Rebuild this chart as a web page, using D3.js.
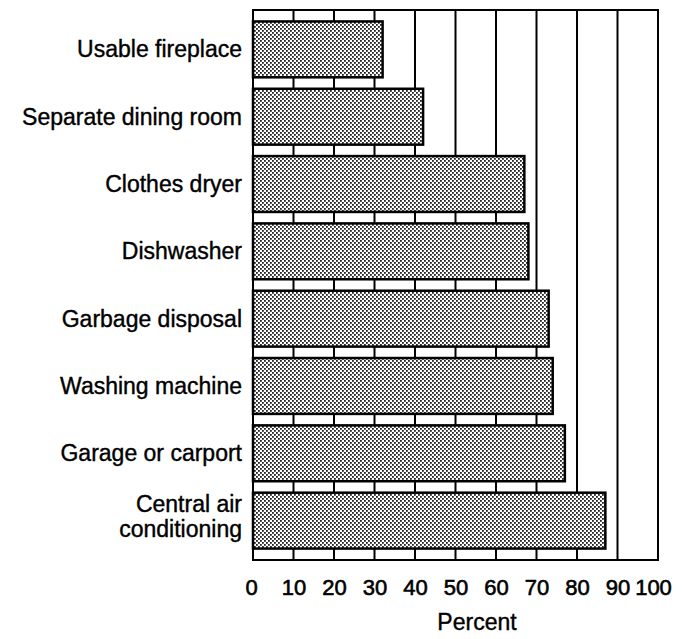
<!DOCTYPE html>
<html>
<head>
<meta charset="utf-8">
<script src="https://cdn.jsdelivr.net/npm/d3@7"></script>
<style>
  body { margin: 0; background: #fff; }
  text { font-family: "Liberation Sans", Arial, Helvetica, sans-serif; fill: #000; }
</style>
</head>
<body>
<div id="chart"></div>
<script>
// data
const categories = ["Usable fireplace", "Separate dining room", "Clothes dryer", "Dishwasher",
  "Garbage disposal", "Washing machine", "Garage or carport", "Central air conditioning"];
const percents = [32, 42, 67, 68, 73, 74, 77, 87];
const tickValues = [0, 10, 20, 30, 40, 50, 60, 70, 80, 90, 100];
const gridValues = [10, 20, 30, 40, 50, 60, 70, 80, 90];

// label lines (central air wraps)
const labelLines = {
  "Central air conditioning": ["Central air", "conditioning"]
};

let width = 693
let height = 639
let margin = {top: 10, right: 35, bottom: 79, left: 253}

const data = categories.map((c, i) => ({name: c, value: percents[i]}))

const svg = d3.select("#chart").append("svg")
  .attr("width", width)
  .attr("height", height)

// dotted screen fill like the print
const defs = svg.append("defs")
const pat = defs.append("pattern")
  .attr("id", "dots")
  .attr("patternUnits", "userSpaceOnUse")
  .attr("width", 4)
  .attr("height", 4)
pat.append("rect").attr("width", 4).attr("height", 4).attr("fill", "#fff")
pat.append("rect").attr("x", 0).attr("y", 0).attr("width", 1.8).attr("height", 1.8).attr("fill", "#222")
pat.append("rect").attr("x", 2).attr("y", 2).attr("width", 1.8).attr("height", 1.8).attr("fill", "#222")

const x = d3.scaleLinear()
  .domain([0, 100])
  .range([margin.left, width - margin.right])

const y = d3.scaleBand()
  .domain(categories)
  .range([margin.top, height - margin.bottom])
  .padding(0.17)

// vertical grid lines, behind bars
svg.append("g")
  .selectAll("line")
  .data(gridValues)
  .join("line")
    .attr("x1", d => x(d))
    .attr("x2", d => x(d))
    .attr("y1", margin.top)
    .attr("y2", height - margin.bottom)
    .attr("stroke", "#000")
    .attr("stroke-width", 2)

// frame
svg.append("rect")
  .attr("x", x(0))
  .attr("y", margin.top)
  .attr("width", x(100) - x(0))
  .attr("height", height - margin.bottom - margin.top)
  .attr("fill", "none")
  .attr("stroke", "#000")
  .attr("stroke-width", 2)

// bars
svg.append("g")
  .selectAll("rect")
  .data(data)
  .join("rect")
    .attr("x", x(0))
    .attr("y", d => y(d.name))
    .attr("width", d => x(d.value) - x(0))
    .attr("height", y.bandwidth())
    .attr("fill", "url(#dots)")
    .attr("stroke", "#000")
    .attr("stroke-width", 2.5)

// category labels
const labelX = margin.left - 11
const labels = svg.append("g")
  .selectAll("text")
  .data(data)
  .join("text")
    .attr("x", labelX)
    .attr("text-anchor", "end")
    .style("font-size", "23px")
    .attr("stroke", "#000")
    .attr("stroke-width", 0.4)

labels.each(function (d) {
  const t = d3.select(this)
  const cy = y(d.name) + y.bandwidth() / 2
  const lines = labelLines[d.name] || [d.name]
  if (lines.length == 1) {
    t.attr("y", cy).attr("dy", "0.35em").text(d.name)
  } else {
    t.attr("y", cy)
    lines.forEach((l, i) => {
      t.append("tspan")
        .attr("x", labelX)
        .attr("y", cy + (i == 0 ? -9 : 16))
        .text(l)
    })
  }
})

// x axis
const xAxis = svg.append("g")
  .attr("transform", `translate(0,${height - margin.bottom})`)
  .call(d3.axisBottom(x).tickValues(tickValues).tickSize(0).tickPadding(19))

xAxis.select(".domain").remove()
xAxis.selectAll("text")
  .style("font-size", "22px")
  .style("font-family", '"Liberation Sans", Arial, Helvetica, sans-serif')
  .attr("fill", "#000")
  .attr("stroke", "#000")
  .attr("stroke-width", 0.6)
  .attr("dx", d => d == 100 ? -5 : (d == 0 ? -2 : 0))

svg.append("text")
  .attr("x", 477)
  .attr("y", 630)
  .attr("text-anchor", "middle")
  .style("font-size", "23px")
  .attr("stroke", "#000")
  .attr("stroke-width", 0.4)
  .text("Percent")
</script>
</body>
</html>
